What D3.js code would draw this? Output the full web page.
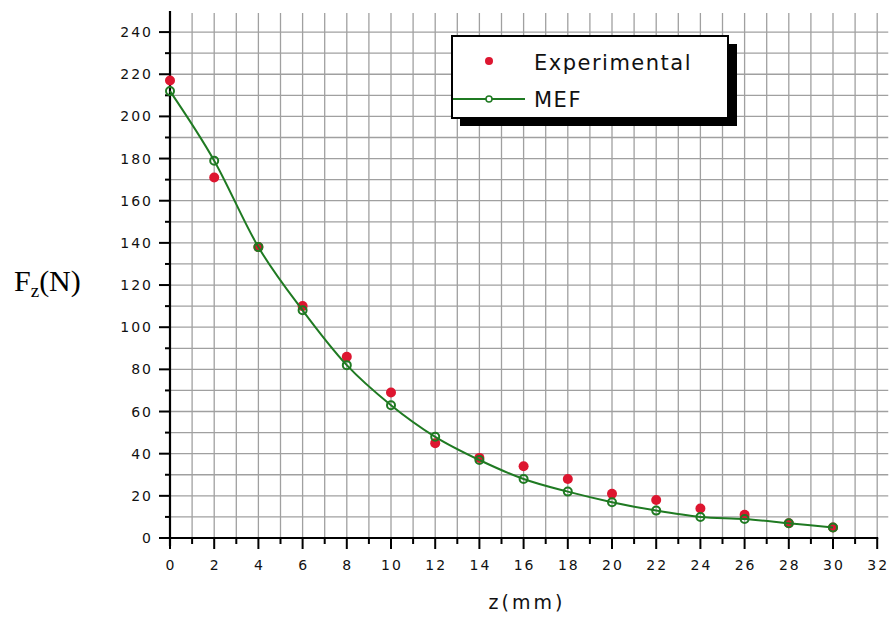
<!DOCTYPE html>
<html>
<head>
<meta charset="utf-8">
<script src="https://cdn.jsdelivr.net/npm/d3@7"></script>
<style>
  body { margin: 0; background: #fff; }
  svg { display: block; }
</style>
</head>
<body>
<svg id="chart"></svg>
<script>
// z positions (mm)
const zValues = [0, 2, 4, 6, 8, 10, 12, 14, 16, 18, 20, 22, 24, 26, 28, 30];
// measured force
const experimental = [217, 171, 138, 110, 86, 69, 45, 38, 34, 28, 21, 18, 14, 11, 7, 5];
// finite element model
const mef = [212, 179, 138, 108, 82, 63, 48, 37, 28, 22, 17, 13, 10, 9, 7, 5];
const seriesNames = ["Experimental", "MEF"];
const xTicks = d3.range(0, 33, 2);
const yTicks = d3.range(0, 241, 20);

const width = 889, height = 618;

const x = d3.scaleLinear().domain([0, 32.5]).range([170, 170 + 32.5 * 22.1]);
const y = d3.scaleLinear().domain([0, 250]).range([538, 538 - 250 * 2.108]);

const svg = d3.select("#chart")
    .attr("width", width)
    .attr("height", height)
    .attr("viewBox", [0, 0, width, height]);

const tickFont = "'DejaVu Sans', Verdana, sans-serif";

// grid
const grid = svg.append("g")
    .attr("stroke", "#a0a0a0")
    .attr("stroke-width", 1.3);
grid.selectAll("line.v")
    .data(d3.range(1, 33))
    .join("line")
    .attr("x1", d => x(d)).attr("x2", d => x(d))
    .attr("y1", y(249)).attr("y2", y(0));
grid.selectAll("line.h")
    .data(d3.range(10, 241, 10))
    .join("line")
    .attr("x1", x(0)).attr("x2", x(32.5))
    .attr("y1", d => y(d)).attr("y2", d => y(d));

// y axis
const yAxis = svg.append("g");
yAxis.append("line")
    .attr("x1", x(0)).attr("x2", x(0))
    .attr("y1", y(250)).attr("y2", y(0) + 8)
    .attr("stroke", "#000").attr("stroke-width", 2.2);
yAxis.selectAll("line.tick")
    .data(d3.range(0, 241, 10))
    .join("line")
    .attr("x1", d => x(0) - (d % 20 === 0 ? 11 : 5)).attr("x2", x(0))
    .attr("y1", d => y(d)).attr("y2", d => y(d))
    .attr("stroke", "#000").attr("stroke-width", 2);
yAxis.selectAll("text")
    .data(yTicks)
    .join("text")
    .attr("x", 153)
    .attr("y", d => y(d))
    .attr("dy", "0.36em")
    .attr("text-anchor", "end")
    .attr("font-family", tickFont)
    .attr("font-size", 14)
    .attr("letter-spacing", 2)
    .attr("fill", "#111")
    .text(d => d);

// x axis
const xAxis = svg.append("g");
xAxis.append("line")
    .attr("x1", x(0) - 2).attr("x2", x(32) + 1)
    .attr("y1", y(0)).attr("y2", y(0))
    .attr("stroke", "#000").attr("stroke-width", 2.2);
xAxis.selectAll("line.tick")
    .data(d3.range(0, 33, 1))
    .join("line")
    .attr("x1", d => x(d)).attr("x2", d => x(d))
    .attr("y1", y(0))
    .attr("y2", d => y(0) + (d % 2 === 0 ? 11 : 6))
    .attr("stroke", "#000").attr("stroke-width", 2);
xAxis.selectAll("text")
    .data(xTicks)
    .join("text")
    .attr("x", d => x(d) + 1)
    .attr("y", 570)
    .attr("text-anchor", "middle")
    .attr("font-family", tickFont)
    .attr("font-size", 14)
    .attr("letter-spacing", 2)
    .attr("fill", "#111")
    .text(d => d);

// axis titles
svg.append("text")
    .attr("x", 527)
    .attr("y", 609)
    .attr("text-anchor", "middle")
    .attr("font-family", tickFont)
    .attr("font-size", 19)
    .attr("letter-spacing", 3)
    .attr("fill", "#111")
    .text("z(mm)");

const yTitle = svg.append("text")
    .attr("x", 14)
    .attr("y", 291)
    .attr("font-family", "'Liberation Serif', 'Times New Roman', serif")
    .attr("font-size", 30)
    .attr("fill", "#000");
yTitle.append("tspan").text("F");
yTitle.append("tspan").attr("font-size", 19).attr("dy", 6).text("z");
yTitle.append("tspan").attr("dy", -6).text("(N)");

// MEF curve
const points = zValues.map((z, i) => ({z, exp: experimental[i], mef: mef[i]}));
const line = d3.line()
    .x(d => x(d.z))
    .y(d => y(d.mef))
    .curve(d3.curveMonotoneX);

svg.append("g")
    .selectAll("circle")
    .data(points)
    .join("circle")
    .attr("cx", d => x(d.z))
    .attr("cy", d => y(d.exp))
    .attr("r", 5)
    .attr("fill", "#dd1630");

svg.append("path")
    .datum(points)
    .attr("fill", "none")
    .attr("stroke", "#1f7a22")
    .attr("stroke-width", 2)
    .attr("d", line);

svg.append("g")
    .selectAll("circle")
    .data(points)
    .join("circle")
    .attr("cx", d => x(d.z))
    .attr("cy", d => y(d.mef))
    .attr("r", 4)
    .attr("fill", "none")
    .attr("stroke", "#1f7a22")
    .attr("stroke-width", 2);

// legend
const legend = svg.append("g");
legend.append("rect")
    .attr("x", 460).attr("y", 44).attr("width", 277).attr("height", 82)
    .attr("fill", "#000");
legend.append("rect")
    .attr("x", 452).attr("y", 36).attr("width", 276).attr("height", 82)
    .attr("fill", "#fff").attr("stroke", "#000").attr("stroke-width", 2);
legend.append("circle")
    .attr("cx", 489).attr("cy", 61).attr("r", 4)
    .attr("fill", "#dd1630");
legend.append("line")
    .attr("x1", 453).attr("x2", 525).attr("y1", 99).attr("y2", 99)
    .attr("stroke", "#1f7a22").attr("stroke-width", 1.8);
legend.append("circle")
    .attr("cx", 489).attr("cy", 99).attr("r", 3)
    .attr("fill", "#fff").attr("stroke", "#1f7a22").attr("stroke-width", 1.5);
legend.selectAll("text")
    .data(seriesNames)
    .join("text")
    .attr("x", 534)
    .attr("y", (d, i) => i === 0 ? 70 : 107)
    .attr("font-family", tickFont)
    .attr("font-size", 21)
    .attr("letter-spacing", 1.5)
    .attr("fill", "#111")
    .text(d => d);
</script>
</body>
</html>
